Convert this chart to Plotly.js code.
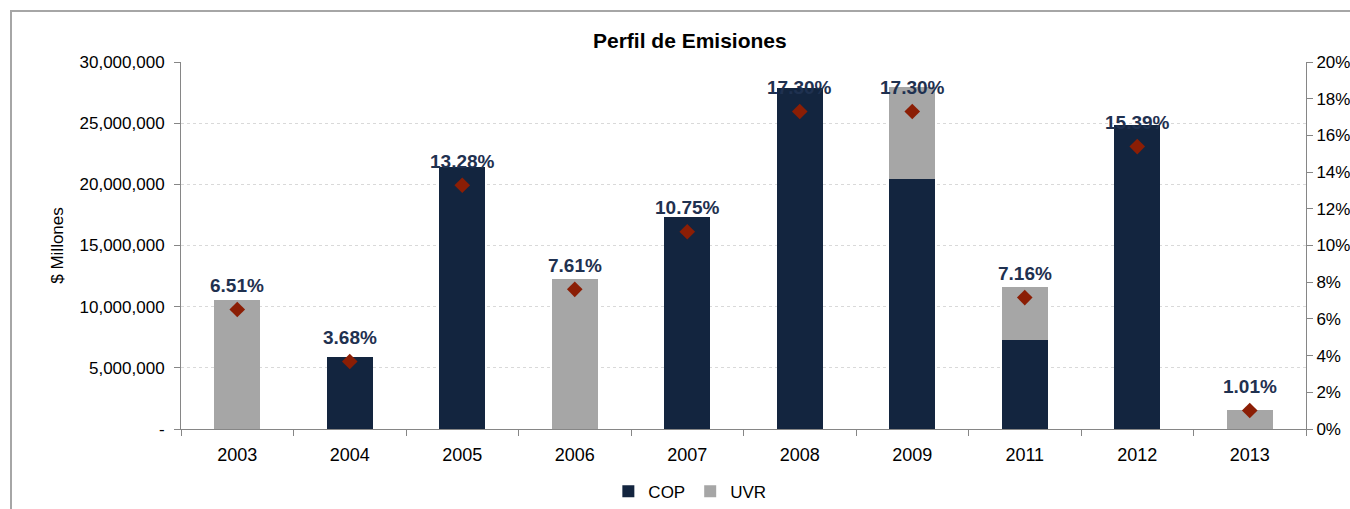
<!DOCTYPE html>
<html>
<head>
<meta charset="utf-8">
<script src="https://cdn.plot.ly/plotly-3.0.1.min.js"></script>
<style>
  html, body { margin:0; padding:0; background:#fff; }
  #wrap { position:relative; width:1350px; height:509px; overflow:hidden; }
  #frame { position:absolute; left:10px; top:10px; width:1400px; height:600px; border:2px solid #a6a6a6; box-sizing:border-box; pointer-events:none; }
  #chart { position:absolute; left:0; top:0; width:1350px; height:509px; }
</style>
</head>
<body>
<div id="wrap">
  <div id="chart"></div>
  <div id="frame"></div>
</div>
<script>
const years = ['2003','2004','2005','2006','2007','2008','2009','2011','2012','2013'];
const cop = [0, 5890000, 21420000, 0, 17330000, 27880000, 20440000, 7280000, 24850000, 0];
const uvr = [10540000, 0, 0, 12260000, 0, 0, 7520000, 4330000, 0, 1550000];
const pct = [0.0651, 0.0368, 0.1328, 0.0761, 0.1075, 0.1730, 0.1730, 0.0716, 0.1539, 0.0101];
const pctLabels = ['6.51%','3.68%','13.28%','7.61%','10.75%','17.30%','17.30%','7.16%','15.39%','1.01%'];
const leftTickVals = [0, 5000000, 10000000, 15000000, 20000000, 25000000, 30000000];
const leftTickText = ['-', '5,000,000', '10,000,000', '15,000,000', '20,000,000', '25,000,000', '30,000,000'];

const FONT = '"Liberation Sans Narrow", "Arial Narrow", Arial, sans-serif';
const navy = '#13253f';
const grey = '#a6a6a6';

const traces = [
  { type:'bar', name:'COP', x:years, y:cop, marker:{color:navy}, width:0.41, hoverinfo:'skip' },
  { type:'bar', name:'UVR', x:years, y:uvr, marker:{color:grey}, width:0.41, hoverinfo:'skip' },
  { type:'scatter', mode:'markers', name:'pct', x:years, y:pct, yaxis:'y2', showlegend:false,
    marker:{symbol:'diamond', size:12, color:'#8b1e05'}, hoverinfo:'skip' }
];

const annotations = years.map((yr, i) => ({
  x: i, y: pct[i], xref:'x', yref:'y2', text: pctLabels[i], showarrow:false,
  yshift: 24, yanchor:'middle', font:{family:FONT, size:19, color:'#1f3150', weight:'bold'}
}));
annotations.push({
  text:'$ Millones', xref:'paper', yref:'paper', x:-0.110, y:0.5, textangle:-90, showarrow:false,
  xanchor:'center', yanchor:'middle', font:{family:FONT, size:17, color:'#000'}
});

const layout = {
  width:1350, height:509,
  margin:{l:181, r:44, t:62, b:80},
  paper_bgcolor:'rgba(0,0,0,0)', plot_bgcolor:'#fff',
  barmode:'stack',
  showlegend:true,
  legend:{orientation:'h', x:0.511, xref:'container', xanchor:'center', y:0.034, yref:'container', yanchor:'middle',
    font:{family:FONT, size:17, color:'#000'}, traceorder:'normal', itemwidth:30, tracegroupgap:0},
  title:{text:'<b>Perfil de Emisiones</b>', x:0.511, xref:'container', xanchor:'center',
    y:0.921, yref:'container', yanchor:'middle', font:{family:'"Liberation Sans", Arial, sans-serif', size:21, color:'#000'}},
  xaxis:{type:'category', range:[-0.5, 9.5], autorange:false, tickson:'boundaries', ticks:'outside', ticklen:6, tickcolor:'#868686',
    showline:true, linecolor:'#868686', linewidth:1, showgrid:false, ticklabelstandoff:9,
    tickfont:{family:FONT, size:18, color:'#000'}},
  yaxis:{range:[0, 30000000], tickvals:leftTickVals, ticktext:leftTickText, ticks:'outside', ticklen:6,
    tickcolor:'#868686', showline:true, linecolor:'#868686', linewidth:1,
    showgrid:true, gridcolor:'#d9d9d9', griddash:'dot', gridwidth:1, zeroline:false,
    tickfont:{family:FONT, size:17, color:'#000'}, ticklabelstandoff:6},
  yaxis2:{range:[0, 0.2], dtick:0.02, tickformat:'.0%', overlaying:'y', side:'right',
    ticks:'outside', ticklen:6, tickcolor:'#868686', showline:true, linecolor:'#868686', linewidth:1,
    showgrid:false, zeroline:false, tickfont:{family:FONT, size:17, color:'#000'}},
  annotations: annotations
};

Plotly.newPlot('chart', traces, layout, {displayModeBar:false, staticPlot:true});
</script>
</body>
</html>
